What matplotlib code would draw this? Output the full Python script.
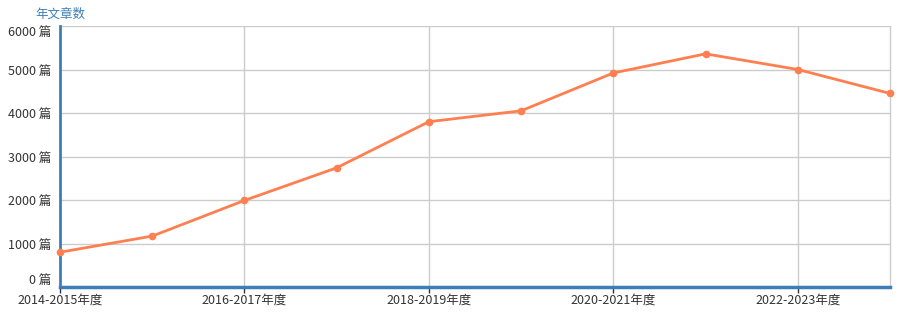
import matplotlib
matplotlib.use('Agg')
import matplotlib.pyplot as plt
import numpy as np

plt.rcParams['font.family'] = ['Noto Sans CJK SC', 'DejaVu Sans']

years = ['2014-2015年度', '2015-2016年度', '2016-2017年度', '2017-2018年度', '2018-2019年度',
         '2019-2020年度', '2020-2021年度', '2021-2022年度', '2022-2023年度', '2023-2024年度']
counts = [800, 1170, 1990, 2740, 3800, 4050, 4920, 5360, 5000, 4450]
y_ticks = [0, 1000, 2000, 3000, 4000, 5000, 6000]

blue = '#3c7fb8'
grid = '#cccccc'
text = '#333333'

fig = plt.figure(figsize=(9.01, 3.30), dpi=100)
ax = fig.add_axes([60 / 901, 43 / 330, 830 / 901, 261 / 330])

x = np.arange(len(years))
ax.plot(x, counts, color='#ff7f50', linewidth=2, marker='o', markersize=4.5, zorder=3,
        clip_on=False)

ax.set_xlim(0, len(years) - 1)
ax.set_ylim(0, 6000)

# grid lines
for yv in y_ticks[1:]:
    ax.axhline(yv, color=grid, linewidth=1, zorder=1)
for xi in x[::2]:
    ax.axvline(xi, color=grid, linewidth=1, zorder=1)

ax.spines['top'].set_visible(False)
ax.spines['right'].set_color(grid)
ax.spines['right'].set_linewidth(1)
ax.spines['left'].set_color(blue)
ax.spines['left'].set_linewidth(2)
ax.spines['bottom'].set_color(blue)
ax.spines['bottom'].set_linewidth(2.5)

ax.set_xticks(x[::2])
ax.set_xticklabels(years[::2], fontsize=9, color=text)
ax.tick_params(axis='x', length=4, width=1, color=text, pad=0.5, direction='out')

ax.set_yticks(y_ticks)
ax.set_yticklabels([f'{v} 篇' for v in y_ticks], fontsize=9, color=text)
ax.tick_params(axis='y', length=0, pad=6)
labels = ax.get_yticklabels()
labels[0].set_va('bottom')
labels[-1].set_va('top')

fig.text(60 / 901, 1 - 14 / 330, '年文章数', ha='center', va='center', fontsize=9, color=blue)

fig.savefig('out.png', dpi=100)
